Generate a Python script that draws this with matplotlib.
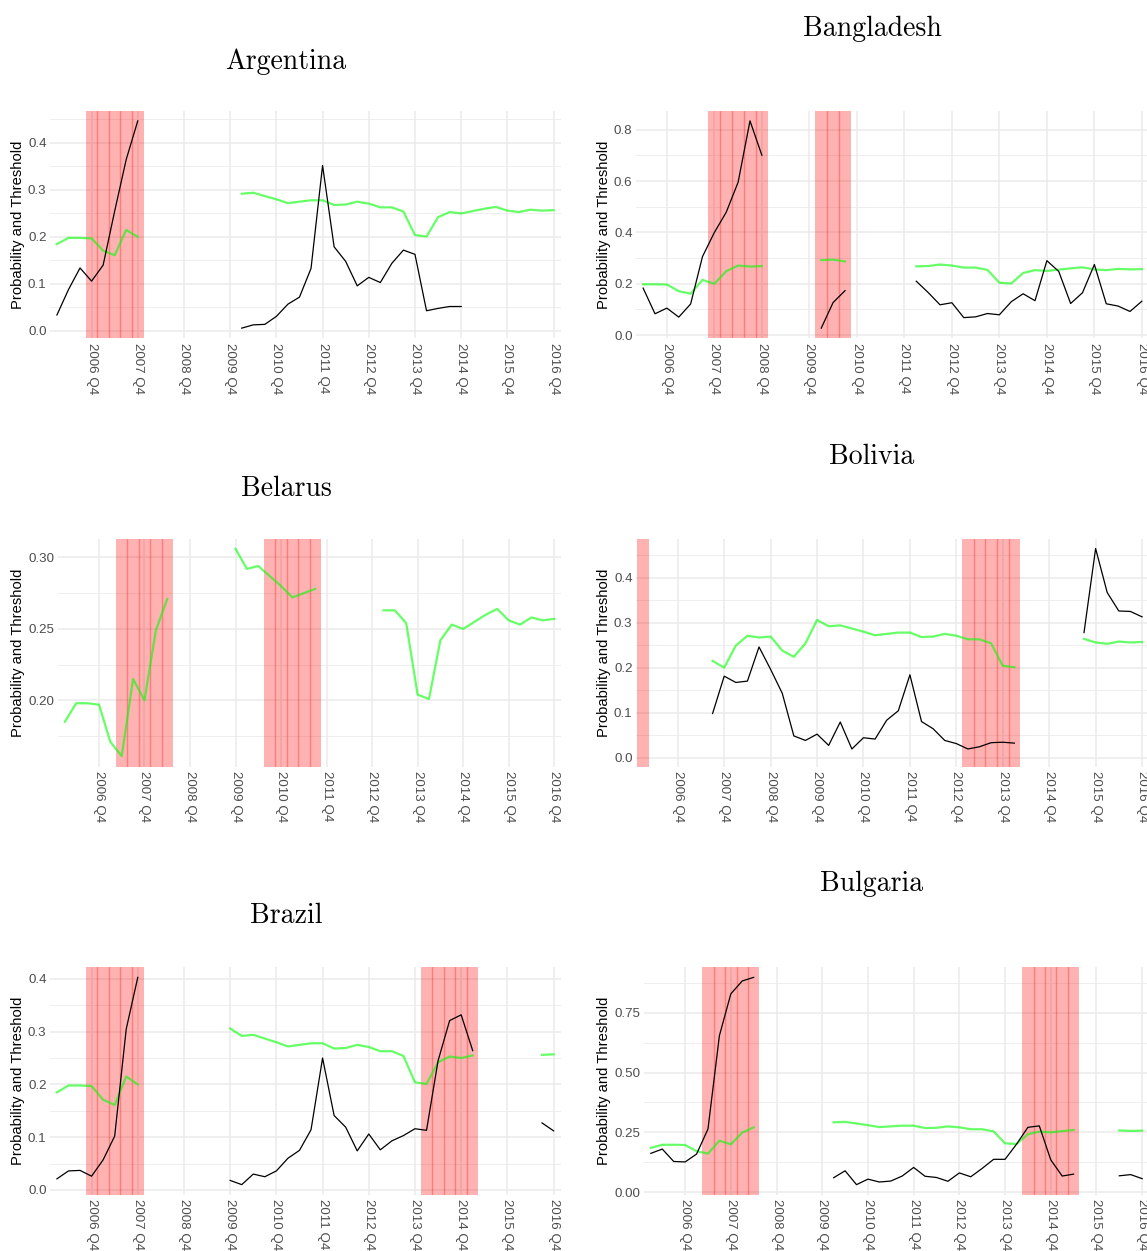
import matplotlib.pyplot as plt
import numpy as np
from matplotlib.ticker import FormatStrFormatter, MultipleLocator

nan = np.nan

# quarterly x categories, 2006 Q1 .. 2016 Q4
quarters = [f"{year} Q{q}" for year in range(2006, 2017) for q in range(1, 5)]

# common threshold series (same for every country)
threshold = [
    0.185, 0.198, 0.198, 0.197, 0.171, 0.161, 0.215, 0.200, 0.249, 0.271,
    0.267, 0.269, 0.238, 0.224, 0.254, 0.306, 0.292, 0.294, 0.287, 0.280,
    0.272, 0.275, 0.278, 0.278, 0.268, 0.269, 0.275, 0.271, 0.263, 0.263,
    0.254, 0.204, 0.201, 0.242, 0.253, 0.250, 0.255, 0.260, 0.264, 0.256,
    0.253, 0.258, 0.256, 0.257,
]

argentina_prob = [
    0.034, 0.088, 0.134, 0.106, 0.140, 0.255, 0.365, 0.447, nan, nan,
    nan, nan, nan, nan, nan, nan, 0.006, 0.013, 0.014, 0.031,
    0.057, 0.072, 0.133, 0.352, 0.179, 0.148, 0.096, 0.114, 0.103, 0.144,
    0.172, 0.163, 0.043, 0.048, 0.052, 0.052, nan, nan, nan, nan,
    nan, nan, nan, nan,
]
bangladesh_prob = [
    nan, 0.183, 0.083, 0.105, 0.070, 0.121, 0.306, 0.400, 0.479, 0.596,
    0.835, 0.701, nan, nan, nan, nan, 0.027, 0.127, 0.173, nan,
    nan, nan, nan, nan, 0.210, 0.166, 0.118, 0.126, 0.068, 0.071,
    0.084, 0.079, 0.130, 0.161, 0.134, 0.290, 0.248, 0.123, 0.165, 0.275,
    0.122, 0.113, 0.092, 0.132,
]
belarus_prob = [nan] * 44
bolivia_prob = [
    nan, nan, nan, nan, nan, nan, 0.098, 0.181, 0.167, 0.170,
    0.246, 0.196, 0.143, 0.048, 0.038, 0.052, 0.027, 0.079, 0.019, 0.044,
    0.041, 0.083, 0.104, 0.184, 0.080, 0.064, 0.038, 0.031, 0.019, 0.024,
    0.033, 0.034, 0.032, nan, nan, nan, nan, nan, 0.278, 0.465,
    0.367, 0.326, 0.325, 0.313,
]
brazil_prob = [
    0.021, 0.036, 0.037, 0.026, 0.057, 0.102, 0.305, 0.403, nan, nan,
    nan, nan, nan, nan, nan, 0.018, 0.010, 0.030, 0.025, 0.036,
    0.060, 0.075, 0.114, 0.250, 0.141, 0.119, 0.074, 0.106, 0.076, 0.093,
    0.103, 0.116, 0.113, 0.245, 0.321, 0.332, 0.264, nan, nan, nan,
    nan, nan, 0.127, 0.112,
]
bulgaria_prob = [
    0.162, 0.180, 0.128, 0.126, 0.159, 0.264, 0.655, 0.830, 0.884, 0.899,
    nan, nan, nan, nan, nan, nan, 0.060, 0.089, 0.031, 0.054,
    0.042, 0.046, 0.067, 0.103, 0.066, 0.061, 0.045, 0.080, 0.064, 0.099,
    0.137, 0.137, 0.200, 0.271, 0.277, 0.135, 0.067, 0.075, nan, nan,
    nan, 0.068, 0.073, 0.056,
]

# quarters where the threshold is shown
argentina_thr = [("2006 Q1", "2007 Q4"), ("2010 Q1", "2016 Q4")]
bangladesh_thr = [("2006 Q2", "2008 Q4"), ("2010 Q1", "2010 Q3"), ("2012 Q1", "2016 Q4")]
belarus_thr = [("2006 Q1", "2008 Q2"), ("2009 Q4", "2011 Q3"), ("2013 Q1", "2016 Q4")]
bolivia_thr = [("2007 Q3", "2014 Q1"), ("2015 Q3", "2016 Q4")]
brazil_thr = [("2006 Q1", "2007 Q4"), ("2009 Q4", "2015 Q1"), ("2016 Q3", "2016 Q4")]
bulgaria_thr = [("2006 Q1", "2008 Q2"), ("2010 Q1", "2015 Q2"), ("2016 Q2", "2016 Q4")]

# crisis periods (shaded)
argentina_crisis = [("2006 Q4", "2007 Q4")]
bangladesh_crisis = [("2007 Q4", "2008 Q4"), ("2010 Q1", "2010 Q3")]
belarus_crisis = [("2007 Q2", "2008 Q2"), ("2010 Q3", "2011 Q3")]
bolivia_crisis = [("2006 Q1", "2006 Q1"), ("2013 Q1", "2014 Q1")]
brazil_crisis = [("2006 Q4", "2007 Q4"), ("2014 Q1", "2015 Q1")]
bulgaria_crisis = [("2007 Q2", "2008 Q2"), ("2014 Q2", "2015 Q2")]

W, H = 1147, 1251
SANS = ["Liberation Sans", "DejaVu Sans"]


def _span_index(span):
    return quarters.index(span[0]), quarters.index(span[1])


def plot_country(fig, name, prob, thr_spans, crisis, box, title_xy, label_x,
                 step, decimals, ymin=None):
    left, top, right, bottom = box
    ax = fig.add_axes([left / W, 1 - bottom / H, (right - left) / W, (bottom - top) / H])
    x = np.arange(len(quarters))
    prob = np.array(prob, dtype=float)
    thr = np.full(len(quarters), nan)
    for span in thr_spans:
        i, j = _span_index(span)
        thr[i:j + 1] = np.array(threshold)[i:j + 1]

    used = ~np.isnan(prob) | ~np.isnan(thr)
    for span in crisis:
        i, j = _span_index(span)
        used[i:j + 1] = True
        ax.axvspan(i - 0.5, j + 0.5, color="red", alpha=0.3, lw=0, zorder=1)
        for k in range(i, j):
            ax.axvline(k + 0.5, color="red", alpha=0.3, lw=1.0, zorder=1)

    ax.plot(x, thr, color="#00ff00", alpha=0.6, lw=1.6, zorder=3)
    ax.plot(x, prob, color="black", lw=0.9, zorder=4)

    start = np.flatnonzero(used)[0]
    ax.set_xlim(start - 0.6, len(quarters) - 1 + 0.6)
    values = np.concatenate([prob[~np.isnan(prob)], thr[~np.isnan(thr)]])
    lo, hi = values.min(), values.max()
    pad = 0.05 * (hi - lo)
    ax.set_ylim(lo - pad if ymin is None else ymin, hi + pad)

    ticks = [i for i, q in enumerate(quarters) if q.endswith("Q4")]
    ax.set_xticks(ticks)
    ax.set_xticklabels([quarters[i] for i in ticks], rotation=-90,
                       family=SANS, fontsize=9.6, color="#4d4d4d")
    ax.yaxis.set_major_locator(MultipleLocator(step))
    ax.yaxis.set_minor_locator(MultipleLocator(step / 2))
    ax.yaxis.set_major_formatter(FormatStrFormatter(f"%.{decimals}f"))
    ax.tick_params(axis="both", length=0, labelsize=9.6, labelcolor="#4d4d4d")
    for lab in ax.get_yticklabels():
        lab.set_family(SANS)
    ax.tick_params(axis="y", pad=2.5)
    ax.tick_params(axis="x", pad=3)
    ax.tick_params(axis="y", which="minor", length=0)

    ax.grid(True, which="major", color="#ebebeb", lw=1.1, zorder=0)
    ax.grid(True, axis="y", which="minor", color="#ebebeb", lw=0.6, zorder=0)
    ax.set_axisbelow(True)
    for spine in ax.spines.values():
        spine.set_visible(False)

    ax.set_ylabel("Probability and Threshold", family=SANS, fontsize=10.6, color="black")
    ax.yaxis.set_label_coords((label_x - left) / (right - left), 0.5)

    fig.text(title_xy[0] / W, 1 - title_xy[1] / H, name, family="cmr10",
             fontsize=20, ha="center", va="center")
    return ax


fig = plt.figure(figsize=(W / 100, H / 100), dpi=100)
plot_country(fig, "Argentina", argentina_prob, argentina_thr, argentina_crisis,
             (50, 110.5, 560.5, 338.5), (286, 62), 25, 0.1, 1)
plot_country(fig, "Bangladesh", bangladesh_prob, bangladesh_thr, bangladesh_crisis,
             (636, 110.5, 1149, 338.5), (872, 29), 611, 0.2, 1)
plot_country(fig, "Belarus", belarus_prob, belarus_thr, belarus_crisis,
             (58, 538.5, 561, 766.5), (286, 489), 25, 0.05, 2)
plot_country(fig, "Bolivia", bolivia_prob, bolivia_thr, bolivia_crisis,
             (636, 538.5, 1149, 766.5), (872, 457), 611, 0.1, 1, ymin=-0.02)
plot_country(fig, "Brazil", brazil_prob, brazil_thr, brazil_crisis,
             (50, 967, 560.5, 1195), (286, 916), 25, 0.1, 1)
plot_country(fig, "Bulgaria", bulgaria_prob, bulgaria_thr, bulgaria_crisis,
             (644, 967, 1149, 1195), (872, 884), 611, 0.25, 2)

fig.savefig("out.png", dpi=100)
